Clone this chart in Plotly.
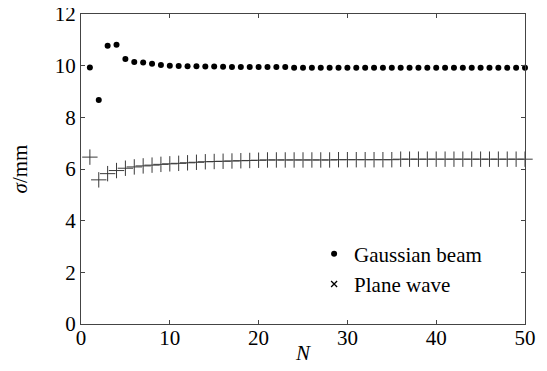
import plotly.graph_objects as go

N = list(range(1, 51))
gaussian_beam = [9.93, 8.67, 10.77, 10.81, 10.26, 10.14, 10.12, 10.07, 10.03, 10.00,
                 9.99, 9.98, 9.98, 9.97, 9.97, 9.96, 9.95, 9.95, 9.95, 9.95,
                 9.95, 9.95, 9.95, 9.92, 9.92, 9.92, 9.92, 9.92, 9.92, 9.92,
                 9.92, 9.92, 9.92, 9.92, 9.92, 9.92, 9.92, 9.92, 9.92, 9.92,
                 9.92, 9.92, 9.92, 9.92, 9.92, 9.92, 9.92, 9.92, 9.92, 9.92]
plane_wave = [6.46, 5.58, 5.82, 5.94, 6.03, 6.08, 6.12, 6.15, 6.18, 6.20,
              6.22, 6.24, 6.26, 6.28, 6.29, 6.30, 6.31, 6.32, 6.33, 6.34,
              6.35, 6.35, 6.35, 6.35, 6.35, 6.35, 6.35, 6.35, 6.36, 6.36,
              6.36, 6.36, 6.36, 6.36, 6.36, 6.38, 6.38, 6.38, 6.38, 6.38,
              6.38, 6.38, 6.38, 6.38, 6.38, 6.38, 6.38, 6.38, 6.38, 6.38]
x_ticks = [0, 10, 20, 30, 40, 50]
y_ticks = [0, 2, 4, 6, 8, 10, 12]

FONT = "Liberation Serif, Times New Roman, serif"
FS = 21

fig = go.Figure()
fig.add_trace(go.Scatter(
    x=N, y=gaussian_beam, mode="markers", name="Gaussian beam",
    marker=dict(symbol="circle", size=6, color="black"),
    cliponaxis=False))
fig.add_trace(go.Scatter(
    x=N, y=plane_wave, mode="markers", name="Plane wave", showlegend=False,
    marker=dict(symbol="cross-thin-open", size=11, color="#3a3a3a",
                line=dict(width=1, color="#3a3a3a")),
    cliponaxis=False))
fig.add_trace(go.Scatter(
    x=[None], y=[None], mode="markers", name="Plane wave",
    marker=dict(symbol="x-thin-open", size=6, color="black",
                line=dict(width=1.3, color="black"))))

axis_common = dict(
    showline=True, linecolor="#444444", linewidth=1, mirror="ticks",
    ticks="inside", ticklen=4, tickcolor="#444444", showgrid=False,
    zeroline=False, automargin=False, ticklabeloverflow="allow",
    tickfont=dict(family=FONT, size=FS, color="black"))

fig.update_layout(
    width=547, height=371,
    margin=dict(l=73, r=30, t=6, b=55),
    paper_bgcolor="white", plot_bgcolor="white",
    font=dict(family=FONT, size=FS, color="black"),
    showlegend=True,
    legend=dict(x=0.525, y=0.292, xanchor="left", yanchor="top",
                bgcolor="rgba(0,0,0,0)", font=dict(family=FONT, size=FS, color="black"),
                itemsizing="trace", tracegroupgap=0),
    xaxis=dict(range=[0, 50], tickvals=x_ticks, ticklabelstandoff=-5,
               **axis_common),
    yaxis=dict(range=[0, 12], tickvals=y_ticks,
               title=dict(text="<i>σ</i>/mm", standoff=26,
                          font=dict(family=FONT, size=FS, color="black")),
               **axis_common),
    annotations=[dict(text="<i>N</i>", xref="paper", yref="paper",
                      x=0.5, y=-0.092, xanchor="center", yanchor="middle",
                      showarrow=False,
                      font=dict(family=FONT, size=FS, color="black"))],
)

fig.write_html("out.html")
